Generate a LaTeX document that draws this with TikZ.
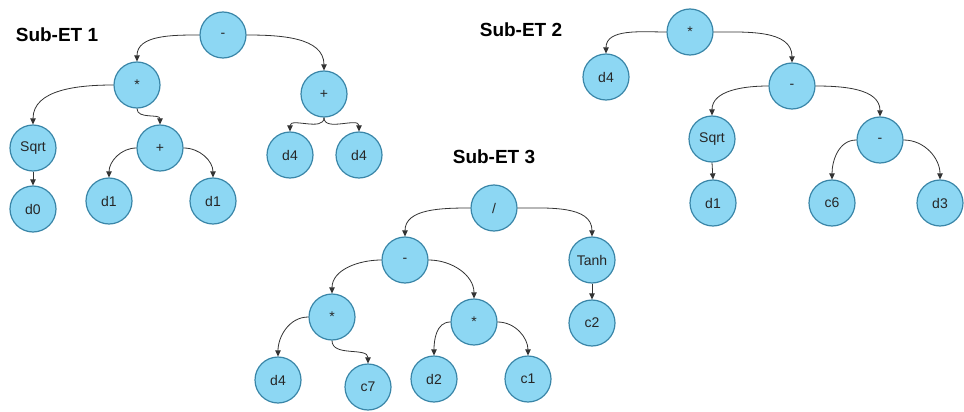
\documentclass[tikz,border=0pt]{standalone}
\usepackage{fontspec}
\setmainfont{Liberation Sans}
\usetikzlibrary{arrows.meta}
\definecolor{nodefill}{HTML}{8DD7F3}
\definecolor{nodeedge}{HTML}{3A86A8}
\definecolor{edgecol}{HTML}{333333}
\tikzset{
  etnode/.style={circle, draw=nodeedge, fill=nodefill, line width=1.2pt,
    minimum size=46pt, inner sep=0pt, font=\fontsize{14pt}{16pt}\selectfont, text=black!85},
  ettitle/.style={font=\fontsize{19pt}{22pt}\selectfont\bfseries, text=black, inner sep=0pt},
  link/.style={draw=edgecol, line width=0.8pt, -{Triangle[width=5.5pt,length=6pt]}}
}
\begin{document}
\begin{tikzpicture}[x=1pt,y=-1pt]
\useasboundingbox (0,0) rectangle (964,412);

% ---------- Sub-ET 1 ----------
\node[ettitle] (t1) at (57,35) {Sub-ET 1};
\node[etnode] (a) at (223,35) {-};
\node[etnode] (a1) at (137,85) {*};
\node[etnode] (a2) at (324,94) {+};
\node[etnode] (a11) at (33,148) {Sqrt};
\node[etnode] (a12) at (160,148) {+};
\node[etnode] (a111) at (33,209) {d0};
\node[etnode] (a121) at (109,201) {d1};
\node[etnode] (a122) at (213,201) {d1};
\node[etnode] (a21) at (290,155) {d4};
\node[etnode] (a22) at (359,155) {d4};

\draw[link] (a.west) to[out=180,in=90] (a1.north);
\draw[link] (a.east) to[out=0,in=90] (a2.north);
\draw[link] (a1.west) to[out=180,in=90] (a11.north);
\draw[link] (a1.south) to[out=-90,in=90] (a12.north);
\draw[link] (a11.south) -- (a111.north);
\draw[link] (a12.west) to[out=180,in=90] (a121.north);
\draw[link] (a12.east) to[out=0,in=90] (a122.north);
\draw[link] (a2.south) to[out=-90,in=90] (a21.north);
\draw[link] (a2.south) to[out=-90,in=90] (a22.north);

% ---------- Sub-ET 2 ----------
\node[ettitle] (t2) at (521,30) {Sub-ET 2};
\node[etnode] (b) at (690,32) {*};
\node[etnode] (b1) at (606,77) {d4};
\node[etnode] (b2) at (792,86) {-};
\node[etnode] (b21) at (712,139) {Sqrt};
\node[etnode] (b22) at (880,140) {-};
\node[etnode] (b211) at (713,203) {d1};
\node[etnode] (b221) at (832,203) {c6};
\node[etnode] (b222) at (940,203) {d3};

\draw[link] (b.west) to[out=180,in=90] (b1.north);
\draw[link] (b.east) to[out=0,in=90] (b2.north);
\draw[link] (b2.west) to[out=180,in=90] (b21.north);
\draw[link] (b2.east) to[out=0,in=90] (b22.north);
\draw[link] (b21.south) -- (b211.north);
\draw[link] (b22.west) to[out=180,in=90] (b221.north);
\draw[link] (b22.east) to[out=0,in=90] (b222.north);

% ---------- Sub-ET 3 ----------
\node[ettitle] (t3) at (494,157) {Sub-ET 3};
\node[etnode] (c) at (494,208) {/};
\node[etnode] (c1) at (405,260) {-};
\node[etnode] (c2) at (592,260) {Tanh};
\node[etnode] (c11) at (332,317) {*};
\node[etnode] (c12) at (474,322) {*};
\node[etnode] (c21) at (592,323) {c2};
\node[etnode] (c111) at (278,380) {d4};
\node[etnode] (c112) at (368,387) {c7};
\node[etnode] (c121) at (434,379) {d2};
\node[etnode] (c122) at (528,379) {c1};

\draw[link] (c.west) to[out=180,in=90] (c1.north);
\draw[link] (c.east) to[out=0,in=90] (c2.north);
\draw[link] (c1.west) to[out=180,in=90] (c11.north);
\draw[link] (c1.east) to[out=0,in=90] (c12.north);
\draw[link] (c2.south) -- (c21.north);
\draw[link] (c11.west) to[out=180,in=90] (c111.north);
\draw[link] (c11.south) to[out=-90,in=90] (c112.north);
\draw[link] (c12.west) to[out=180,in=90] (c121.north);
\draw[link] (c12.east) to[out=0,in=90] (c122.north);
\end{tikzpicture}
\end{document}
